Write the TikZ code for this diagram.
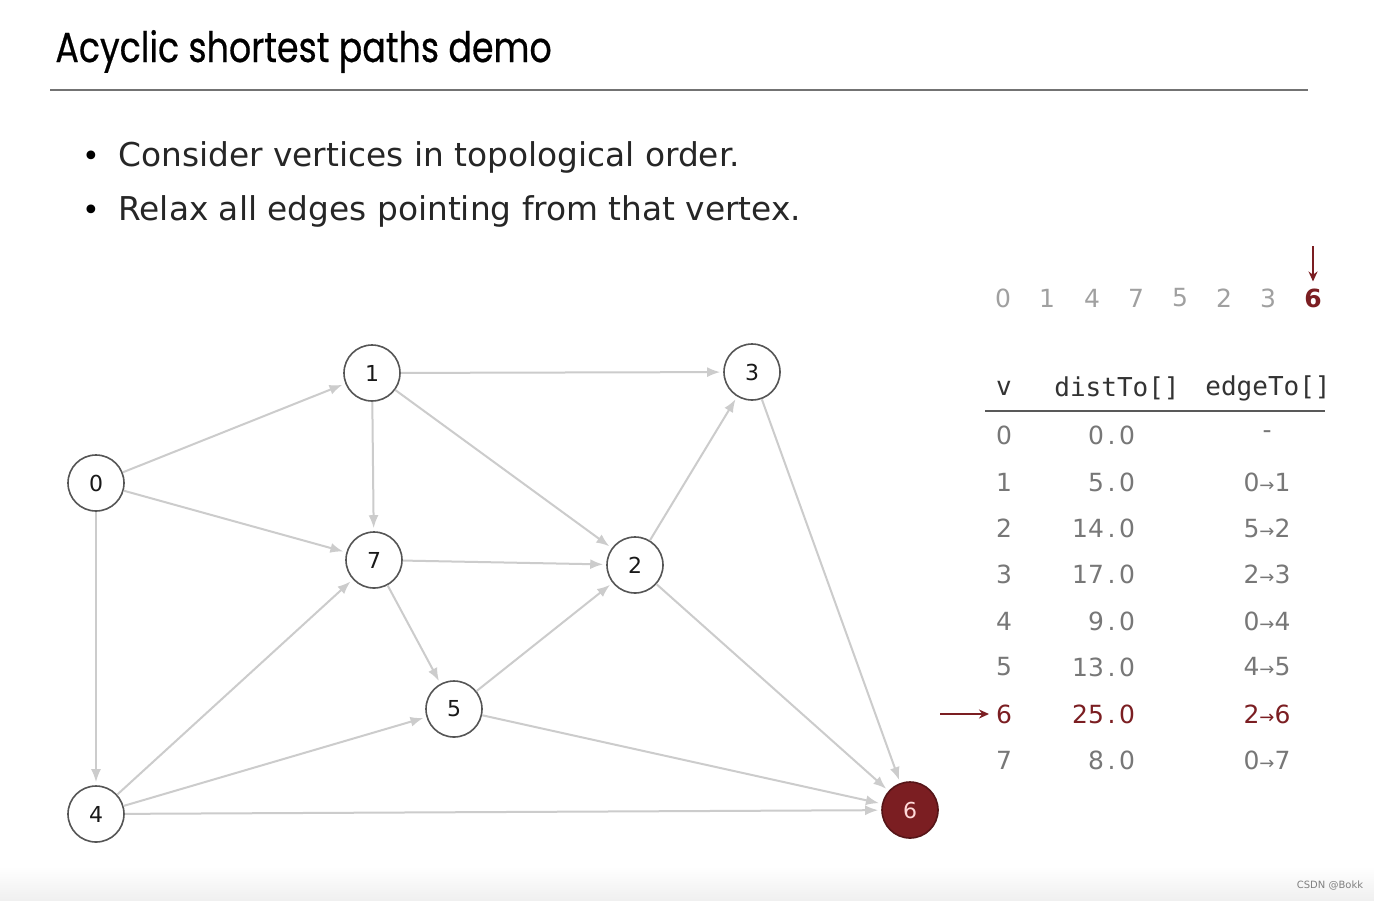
\documentclass[tikz,border=0pt]{standalone}
\usepackage{fontspec}
\setmainfont{DejaVu Sans}
\newfontfamily\titlefont{Poppins}[FakeStretch=0.83,FakeBold=0.5]
\newfontfamily\monofont{DejaVu Sans Mono}
\newfontfamily\arrowfont{DejaVu Sans}
\usetikzlibrary{arrows.meta}
\definecolor{edgegray}{HTML}{CCCCCC}
\definecolor{darkred}{HTML}{7B1E22}
\definecolor{nodeline}{HTML}{555555}
\definecolor{tabgray}{HTML}{777777}
\definecolor{ordgray}{HTML}{A0A0A0}
\newcommand{\ar}{{\arrowfont\fontsize{9}{9}\selectfont →}}
\newcommand{\dd}[2]{#1\makebox[0.6em]{.}#2}
\begin{document}
\begin{tikzpicture}[x=0.5pt,y=-0.5pt,
  vtx/.style={circle, draw=nodeline, line width=0.8pt, fill=white, minimum size=28pt, inner sep=0pt, font=\fontsize{11}{11}\selectfont, text=black!90},
  hot/.style={vtx, fill=darkred, draw=darkred!70!black, text=red!15},
  edge/.style={draw=edgegray, line width=1pt, -{Latex[length=6.5pt,width=5pt]}, shorten >=1.5pt},
  ord/.style={font=\fontsize{12.5}{12.5}\selectfont, text=ordgray, anchor=center},
  tab/.style={font=\fontsize{12.5}{12.5}\selectfont, text=tabgray},
  hdr/.style={font=\monofont\fontsize{13}{13}\selectfont, text=black!80},
  redarrow/.style={draw=darkred, line width=1pt, -{Stealth[length=5pt,width=4.5pt]}}
]
\useasboundingbox (0,0) rectangle (1374,900);
\fill[white] (0,0) rectangle (1374,900);
\shade[top color=white, bottom color=black!6] (0,866) rectangle (1374,900);

% title
\node[anchor=base west, inner sep=0pt, font=\titlefont\fontsize{21}{21}\selectfont] (title) at (55,62) {Acyclic shortest paths demo};
\draw[black!55, line width=1pt] (50,90) -- (1308,90);

% bullets
\node[anchor=base west, inner sep=0pt, font=\fontsize{16.4}{16.4}\selectfont, text=black!85] (b1) at (118,166) {Consider vertices in topological order.};
\node[anchor=base west, inner sep=0pt, font=\fontsize{16.4}{16.4}\selectfont, text=black!85] (b2) at (118,220) {Relax all edges pointing from that vertex.};
\node[anchor=base, inner sep=0pt, font=\fontsize{15}{15}\selectfont] (d1) at (91,166) {•};
\node[anchor=base, inner sep=0pt, font=\fontsize{15}{15}\selectfont] (d2) at (91,220) {•};

% graph
\node[vtx] (n0) at (96,483) {0};
\node[vtx] (n1) at (372,373) {1};
\node[vtx] (n3) at (752,372) {3};
\node[vtx] (n7) at (374,560) {7};
\node[vtx] (n2) at (635,565) {2};
\node[vtx] (n5) at (454,709) {5};
\node[vtx] (n4) at (96,814) {4};
\node[hot] (n6) at (910,810) {6};

\draw[edge] (n0) -- (n1);
\draw[edge] (n0) -- (n7);
\draw[edge] (n0) -- (n4);
\draw[edge] (n1) -- (n3);
\draw[edge] (n1) -- (n7);
\draw[edge] (n1) -- (n2);
\draw[edge] (n7) -- (n2);
\draw[edge] (n7) -- (n5);
\draw[edge] (n4) -- (n7);
\draw[edge] (n4) -- (n5);
\draw[edge] (n4) -- (n6);
\draw[edge] (n5) -- (n2);
\draw[edge] (n5) -- (n6);
\draw[edge] (n2) -- (n3);
\draw[edge] (n2) -- (n6);
\draw[edge] (n3) -- (n6);

% topological order
\node[ord] (t0) at (1003,298) {0};
\node[ord] (t1) at (1047,298) {1};
\node[ord] (t2) at (1092,298) {4};
\node[ord] (t3) at (1136,298) {7};
\node[ord] (t4) at (1180,298) {5};
\node[ord] (t5) at (1224,298) {2};
\node[ord] (t6) at (1268,298) {3};
\node[ord, text=darkred, font=\bfseries\fontsize{12.5}{12.5}\selectfont] (t7) at (1313,298) {6};
\coordinate (topA) at (1313,246);
\draw[redarrow] (topA) -- (t7.north);

% table
\node[hdr] (hv) at (1004,388) {v};
\node[hdr] (hd) at (1117,388) {distTo[]};
\node[hdr] (he) at (1268,388) {edgeTo[]};
\draw[black!65, line width=1pt] (985,411) -- (1325,411);

\foreach \v/\a/\b/\e/\y in {0/0/0/-/435, 1/5/0/0\ar1/482, 2/14/0/5\ar2/528, 3/17/0/2\ar3/574, 4/9/0/0\ar4/621, 5/13/0/4\ar5/667, 7/8/0/0\ar7/760}{
  \node[tab] (v\v) at (1004,\y) {\v};
  \node[tab, anchor=east] (dist\v) at (1142,\y) {\dd{\a}{\b}};
  \node[tab] (edge\v) at (1267,\y) {\e};
}
\node[tab, text=darkred] (v6) at (1004,714) {6};
\node[tab, text=darkred, anchor=east] (dist6) at (1142,714) {\dd{25}{0}};
\node[tab, text=darkred] (edge6) at (1267,714) {2\ar6};
\coordinate (rowA) at (940,714);
\draw[redarrow] (rowA) -- (v6.west);

% watermark
\node[anchor=center, font=\fontsize{5}{5}\selectfont, text=black!50] (wm) at (1330,886) {CSDN @Bokk};
\end{tikzpicture}
\end{document}
